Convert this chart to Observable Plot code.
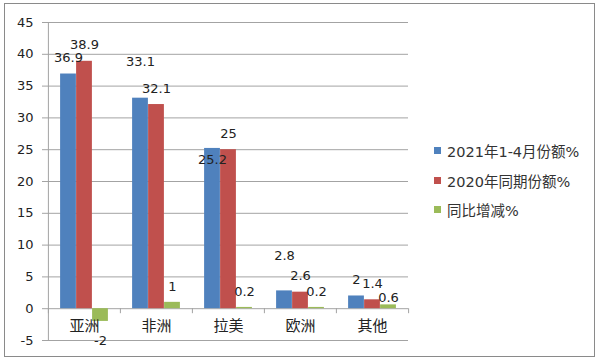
<!DOCTYPE html>
<html><head><meta charset="utf-8">
<script src="https://cdn.jsdelivr.net/npm/d3@7"></script>
<script src="https://cdn.jsdelivr.net/npm/@observablehq/plot@0.6"></script>
<style>
body{margin:0;background:#fff;}
#wrap{position:relative;width:600px;height:361px;font-family:"DejaVu Sans","Noto Sans CJK SC",sans-serif;color:#333;}
#wrap svg{position:absolute;left:0;top:0;}
#frame{position:absolute;left:4px;top:3px;width:589px;height:352px;border:1.5px solid #8a8a8a;}
#legend{position:absolute;left:434px;top:136px;}
.item{display:flex;align-items:center;height:29.5px;font-size:14.5px;color:#333;font-family:"DejaVu Sans","Noto Sans CJK SC",sans-serif;}
.sw{width:7px;height:7px;margin-right:6px;flex:none;}
</style></head>
<body>
<div id="wrap"><div id="frame"></div><div id="legend"></div></div>
<script>
const categories = ["亚洲","非洲","拉美","欧洲","其他"];
const seriesNames = ["2021年1-4月份额%","2020年同期份额%","同比增减%"];
const share2021 = [36.9,33.1,25.2,2.8,2];
const share2020 = [38.9,32.1,25,2.6,1.4];
const yoyChange = [-2,1,0.2,0.2,0.6];
const yTicks = [-5,0,5,10,15,20,25,30,35,40,45];
const colors = ["#4F81BD","#C0504D","#9BBB59"];

const seriesValues = [share2021, share2020, yoyChange];
const rows = [];
seriesValues.forEach((vals, k) => vals.forEach((v, i) => rows.push({category: categories[i], series: seriesNames[k], k, value: v})));

const W = 600, H = 361, ML = 47, MR = 192, MT = 22, MB = 21;
const bw = (W - ML - MR) / categories.length;
const barW = 16;
const inset = (bw - barW) / 2;
const gridColor = "#a3a3a3";

// label placement tweaks (pixels), as in the original chart's label layout
const labelShift = {"0|非洲": -36, "0|欧洲": -35, "0|拉美": 11, "2|其他": -7};
const labelDy = r => labelShift[r.k + "|" + r.category] ?? (r.value >= 0 ? -16 : 19);

const marks = [
  Plot.ruleY(yTicks, {y: d => d, stroke: gridColor, insetLeft: -5}),
  Plot.ruleX([categories[0]], {x: d => d, y1: -5, y2: 45, dx: -bw/2, stroke: gridColor}),
  Plot.ruleX(categories, {x: d => d, y1: 0, y2: 0, insetBottom: -5, dx: -bw/2, stroke: gridColor}),
  Plot.ruleX([categories[categories.length-1]], {x: d => d, y1: 0, y2: 0, insetBottom: -5, dx: bw/2, stroke: gridColor}),
];
seriesNames.forEach((s, k) => {
  const off = (k - 1) * barW;
  const data = rows.filter(r => r.k === k);
  marks.push(Plot.barY(data, {x: "category", y: "value", fill: colors[k], insetLeft: inset, insetRight: inset, dx: off}));
});
seriesNames.forEach((s, k) => {
  const off = (k - 1) * barW;
  const data = rows.filter(r => r.k === k);
  const groups = d3.group(data, labelDy);
  for (const [dy, g] of groups) {
    marks.push(Plot.text(g, {x: "category", y: "value", text: d => String(d.value), dx: off, dy, fontSize: 13, fill: "#222"}));
  }
});
marks.push(Plot.text(categories, {x: d => d, frameAnchor: "bottom", dy: -10, fontSize: 15, fill: "#222"}));
marks.push(Plot.text(yTicks, {y: d => d, frameAnchor: "left", textAnchor: "end", dx: -14, fontSize: 13, fill: "#222"}));

const chart = Plot.plot({
  width: W, height: H,
  marginLeft: ML, marginRight: MR, marginTop: MT, marginBottom: MB,
  style: {fontFamily: '"DejaVu Sans","Noto Sans CJK SC",sans-serif', background: "transparent"},
  x: {type: "band", domain: categories, padding: 0, axis: null},
  y: {domain: [-5, 45], axis: null},
  marks
});
document.getElementById("wrap").appendChild(chart);

const legend = document.getElementById("legend");
seriesNames.forEach((s, k) => {
  const it = document.createElement("div");
  it.className = "item";
  const sw = document.createElement("span");
  sw.className = "sw";
  sw.style.background = colors[k];
  const t = document.createElement("span");
  t.textContent = s;
  it.appendChild(sw); it.appendChild(t);
  legend.appendChild(it);
});
</script>
</body></html>
